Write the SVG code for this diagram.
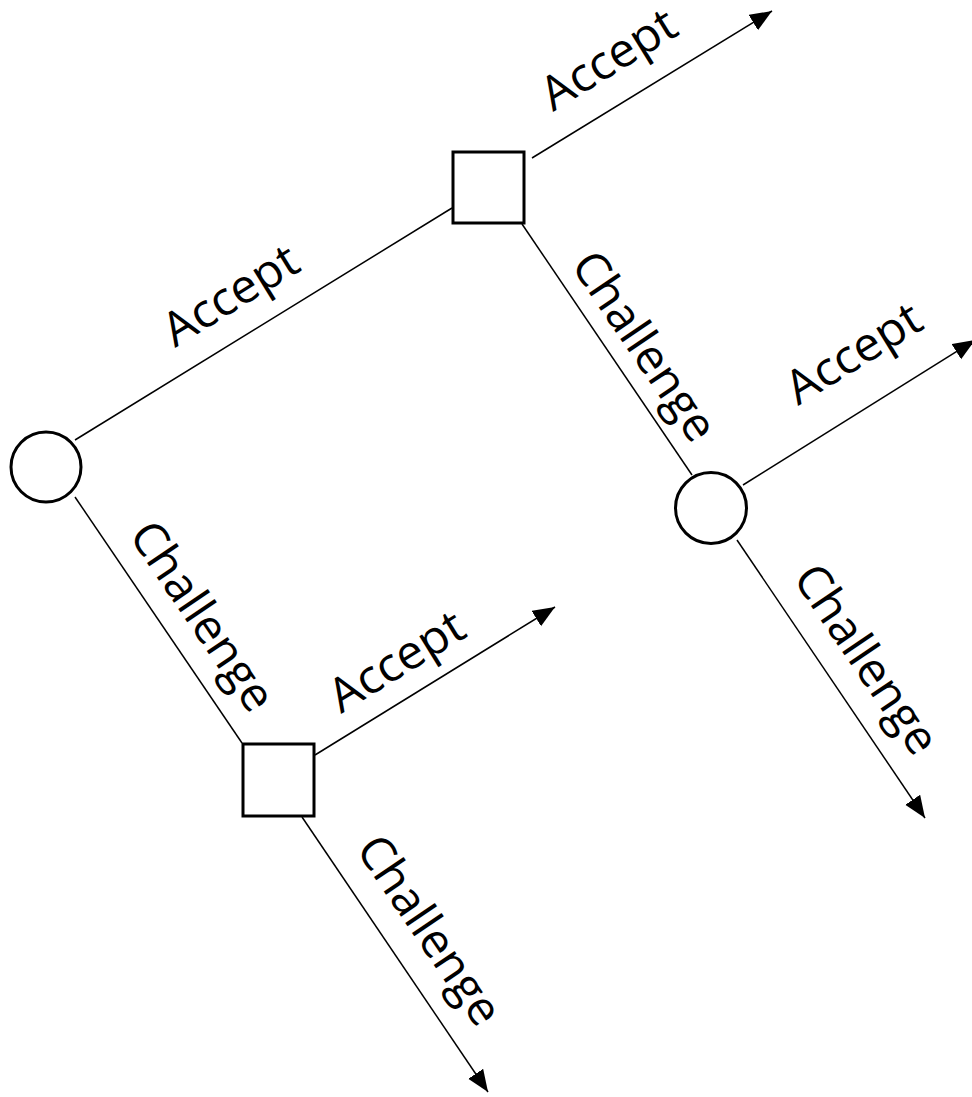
<svg xmlns="http://www.w3.org/2000/svg" width="972" height="1097" viewBox="0 0 972 1097">
<style>
.node{fill:#fff;stroke:#000;stroke-width:3}
.edge{stroke:#000;stroke-width:1.5;fill:none}
.lbl{font-family:"Open Sans","Liberation Sans",sans-serif;font-size:47px;fill:#000}
</style>
<defs>
<marker id="arr" markerUnits="userSpaceOnUse" markerWidth="24" markerHeight="20" refX="22" refY="9" orient="auto">
<path d="M0,0 L22,9 L0,18 z" fill="#000"/>
</marker>
</defs>
<rect width="972" height="1097" fill="#fff"/>
<g id="connectors">
<line class="edge" x1="75" y1="440" x2="452" y2="208"/>
<line class="edge" x1="75" y1="497" x2="242" y2="743"/>
<line class="edge" x1="532" y1="158" x2="772" y2="11" marker-end="url(#arr)"/>
<line class="edge" x1="522" y1="224" x2="692" y2="475"/>
<line class="edge" x1="743" y1="485" x2="975" y2="340" marker-end="url(#arr)"/>
<line class="edge" x1="737" y1="540" x2="925" y2="818" marker-end="url(#arr)"/>
<line class="edge" x1="315" y1="755" x2="555" y2="607" marker-end="url(#arr)"/>
<line class="edge" x1="302" y1="817" x2="488" y2="1092" marker-end="url(#arr)"/>
</g>
<g id="labels">
<text class="lbl" transform="translate(175,348) rotate(-31.6)" textLength="150" lengthAdjust="spacingAndGlyphs">Accept</text>
<text class="lbl" transform="translate(553,112) rotate(-31.6)" textLength="150" lengthAdjust="spacingAndGlyphs">Accept</text>
<text class="lbl" transform="translate(798,406) rotate(-31.6)" textLength="150" lengthAdjust="spacingAndGlyphs">Accept</text>
<text class="lbl" transform="translate(341,714) rotate(-31.6)" textLength="150" lengthAdjust="spacingAndGlyphs">Accept</text>
<text class="lbl" transform="translate(128,535) rotate(55.8)" textLength="218" lengthAdjust="spacingAndGlyphs">Challenge</text>
<text class="lbl" transform="translate(570,265) rotate(55.8)" textLength="218" lengthAdjust="spacingAndGlyphs">Challenge</text>
<text class="lbl" transform="translate(792,578) rotate(55.8)" textLength="218" lengthAdjust="spacingAndGlyphs">Challenge</text>
<text class="lbl" transform="translate(355,849) rotate(55.8)" textLength="218" lengthAdjust="spacingAndGlyphs">Challenge</text>
</g>
<g id="node-c1"><circle class="node" cx="46" cy="467" r="35"/></g>
<g id="node-s1"><rect class="node" x="453" y="152" width="71" height="71"/></g>
<g id="node-c2"><circle class="node" cx="711" cy="508" r="35.5"/></g>
<g id="node-s2"><rect class="node" x="243" y="744" width="71" height="72"/></g>
</svg>
